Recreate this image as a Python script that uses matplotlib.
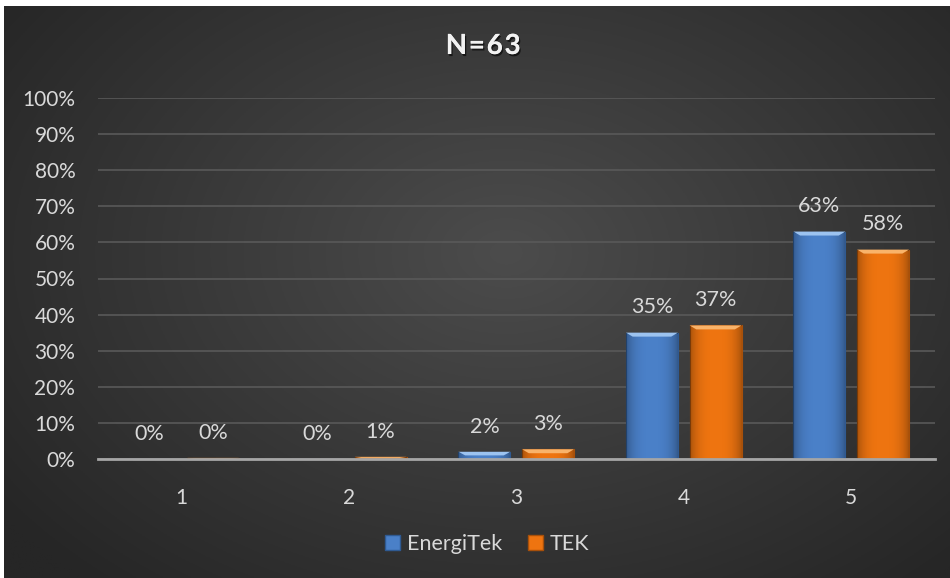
import numpy as np
import matplotlib
matplotlib.use("Agg")
import matplotlib.pyplot as plt
from matplotlib.patches import Polygon, Rectangle
import matplotlib.patheffects as pe

plt.rcParams['font.family'] = ['Lato', 'DejaVu Sans']

categories = ["1", "2", "3", "4", "5"]
energitek = [0, 0, 2, 35, 63]
tek = [0.3, 0.6, 2.7, 37, 58]
energitek_labels = ["0%", "0%", "2%", "35%", "63%"]
tek_labels = ["0%", "1%", "3%", "37%", "58%"]
yticks = [0, 10, 20, 30, 40, 50, 60, 70, 80, 90, 100]

blue = "#4a80c8"
orange = "#ee7410"
txt = "#d9d9d9"

fig = plt.figure(figsize=(9.5, 5.78), dpi=100)
fig.patch.set_facecolor("white")

# background panel with radial gradient
bg = fig.add_axes([4 / 950, 0, 946 / 950, 572 / 578])
bg.set_axis_off()
yy, xx = np.mgrid[0:300, 0:500]
cx, cy = 265, 170
r = np.sqrt(((xx - cx) / 330.0) ** 2 + ((yy - cy) / 230.0) ** 2)
r = np.clip(r, 0, 1)
c0 = np.array([0x4c, 0x4c, 0x4c]) / 255
c1 = np.array([0x26, 0x26, 0x26]) / 255
img = c0[None, None, :] * (1 - r[..., None]) + c1[None, None, :] * r[..., None]
bg.imshow(img, aspect="auto", extent=[0, 1, 0, 1], origin="lower")
bg.set_xlim(0, 1)
bg.set_ylim(0, 1)

ax = fig.add_axes([97.5 / 950, 1 - 459 / 578, 837.5 / 950, 361 / 578])
ax.patch.set_alpha(0)
x = np.arange(len(categories))
w = 0.31
off = 0.19


def bevel_bars(xs, vals, color, dark, light):
    bars = ax.bar(xs, vals, width=w, color=color, edgecolor=dark, linewidth=0.8, zorder=3)
    for b in bars:
        bx, by = b.get_x(), b.get_y()
        bw, bh = b.get_width(), b.get_height()
        if bh <= 0:
            continue
        # darker edges, brighter middle
        grad = np.linspace(-1, 1, 60)
        shade = np.abs(grad) ** 3
        im = ax.imshow(np.dstack([np.zeros((1, 60, 3)), (0.28 * shade)[None, :, None]]),
                       extent=[bx, bx + bw, by, by + bh], aspect="auto", zorder=3.5)
        im.set_clip_path(b)
        # top bevel
        bev = min(1.1, bh * 0.5)
        inset = 0.04
        poly = Polygon([[bx, by + bh], [bx + bw, by + bh],
                        [bx + bw - inset, by + bh - bev], [bx + inset, by + bh - bev]],
                       closed=True, facecolor=light, edgecolor="none", zorder=4)
        ax.add_patch(poly)
    return bars


bevel_bars(x - off, energitek, blue, "#2f5a92", "#9cc3f0")
bevel_bars(x + off, tek, orange, "#a8500a", "#f9b36a")

for i in range(len(categories)):
    ax.text(x[i] - off, energitek[i] + 7.0, energitek_labels[i], ha="center", va="center",
            color=txt, fontsize=15.5)
    ax.text(x[i] + off, tek[i] + 7.0, tek_labels[i], ha="center", va="center",
            color=txt, fontsize=15.5)

ax.set_xlim(-0.5, len(categories) - 0.5)
ax.set_ylim(0, 100)
ax.set_yticks(yticks)
ax.set_yticklabels([f"{v}%" for v in yticks], color=txt, fontsize=15)
ax.set_xticks(x)
ax.set_xticklabels(categories, color=txt, fontsize=15)
ax.tick_params(length=0)
ax.tick_params(axis="y", pad=16)
ax.tick_params(axis="x", pad=21)
ax.grid(axis="y", color="#595959", linewidth=1.2, zorder=0)
ax.set_axisbelow(True)
for s in ["top", "right", "left"]:
    ax.spines[s].set_visible(False)
ax.spines["bottom"].set_color("#a6a6a6")
ax.spines["bottom"].set_linewidth(2)
ax.spines["bottom"].set_zorder(5)

fig.text(483 / 950, 1 - 46 / 578, "N = 6 3".replace(" ", "\u200a"), ha="center", va="center",
         fontsize=20, fontweight="bold", color="#f2f2f2",
         path_effects=[pe.withSimplePatchShadow(offset=(1, -1.5), shadow_rgbFace="black", alpha=0.6),
                       pe.Normal()])

# legend
h1 = Rectangle((0, 0), 1, 1, facecolor=blue, edgecolor="#2f5a92")
h2 = Rectangle((0, 0), 1, 1, facecolor=orange, edgecolor="#a8500a")
leg = fig.legend([h1, h2], ["EnergiTek", "TEK"], loc="center", ncol=2,
                 bbox_to_anchor=(487 / 950, 1 - 544 / 578), frameon=False,
                 fontsize=15.5, handlelength=0.7, handleheight=0.7, handletextpad=0.3,
                 columnspacing=1.2, labelcolor=txt)

fig.savefig("out.png", dpi=100, facecolor=fig.get_facecolor())
